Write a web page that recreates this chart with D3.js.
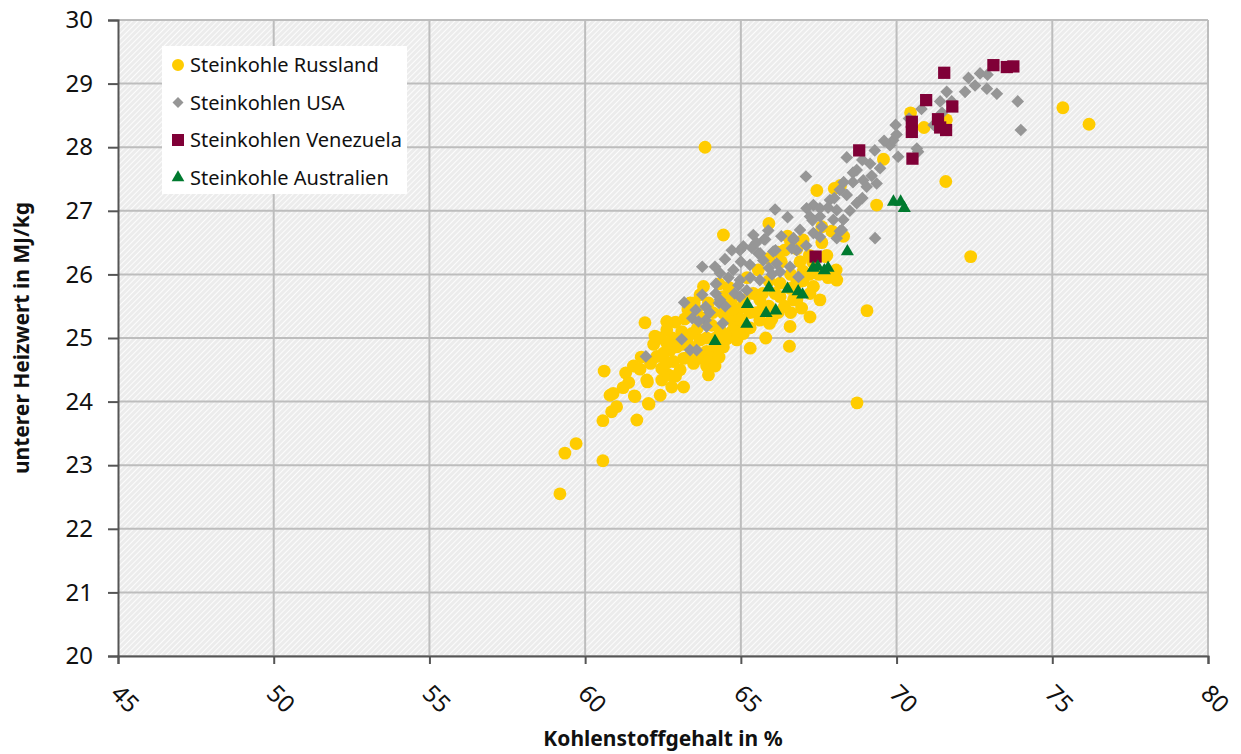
<!DOCTYPE html>
<html lang="de">
<head>
  <meta charset="UTF-8">
  <title>Heizwert vs. Kohlenstoffgehalt</title>
  <script src="https://d3js.org/d3.v7.min.js"></script>
  <style>
    body { margin: 0; background: #fff; }
    svg { display: block; font-family: "Noto Sans", sans-serif; }
    .tick-label { font-size: 24px; fill: #111; }
    .axis-title { font-size: 21px; font-weight: bold; fill: #111; }
    .legend-text { font-size: 20px; fill: #111; }
  </style>
</head>
<body>
  <svg width="1241" height="754"></svg>

  <script>
    // Data: [Kohlenstoffgehalt %, unterer Heizwert MJ/kg]
    const russland = [
      [63.85, 28.00], [75.34, 28.62], [76.18, 28.36], [71.58, 27.46], [72.38, 26.28],
      [68.73, 23.98], [69.05, 25.43], [70.45, 28.54], [70.88, 28.31], [71.60, 28.43],
      [69.36, 27.09], [69.58, 27.81], [67.44, 27.32], [67.92, 26.68], [67.72, 26.28],
      [67.00, 26.54], [66.80, 26.40], [66.40, 26.38], [67.76, 26.30], [68.06, 26.07],
      [68.08, 25.91], [67.22, 25.70], [67.54, 25.60], [66.95, 25.47], [67.22, 25.33],
      [66.58, 25.18], [66.56, 24.87], [66.26, 25.65], [66.58, 25.78], [66.69, 25.60],
      [65.61, 25.60], [65.56, 26.07], [66.26, 25.86], [66.79, 25.86], [67.33, 25.81],
      [65.90, 26.80], [64.44, 26.62], [68.00, 27.35], [67.60, 26.75], [68.02, 25.94],
      [59.19, 22.55], [60.57, 23.07], [59.35, 23.19], [59.71, 23.34], [60.57, 23.70],
      [60.61, 24.48], [60.85, 23.84], [61.01, 23.92], [60.80, 24.10], [60.90, 24.13],
      [61.22, 24.22], [61.58, 24.09], [61.66, 23.71], [62.05, 23.96], [62.00, 24.31],
      [61.55, 24.56], [61.76, 24.51], [61.98, 24.34], [62.41, 24.10], [62.46, 24.34],
      [62.67, 24.42], [62.78, 24.23], [63.16, 24.23], [62.46, 24.52], [62.30, 24.71],
      [62.51, 24.76], [62.83, 24.63], [63.05, 24.50], [62.73, 24.81], [62.94, 24.86],
      [63.16, 24.68], [63.48, 24.60], [63.64, 24.68], [63.27, 24.97], [62.62, 24.92],
      [63.43, 25.07], [63.69, 24.97], [63.90, 24.79], [64.12, 24.81], [63.90, 24.56],
      [63.96, 24.42], [64.17, 24.56], [64.22, 24.92], [64.44, 24.86], [64.55, 24.99],
      [64.71, 25.10], [64.92, 25.23], [64.87, 24.97], [65.30, 24.84], [65.08, 25.07],
      [64.76, 25.33], [65.03, 25.49], [64.44, 25.39], [64.33, 25.13], [64.06, 25.20],
      [63.80, 25.31], [62.90, 25.25], [62.62, 25.26], [63.58, 25.44], [63.37, 25.55],
      [63.96, 25.55], [64.42, 25.65], [64.60, 25.80], [64.30, 25.85], [61.92, 25.24],
      [62.24, 25.03], [62.62, 25.13], [61.60, 24.08], [62.03, 23.97], [63.69, 25.68],
      [63.80, 25.81], [63.50, 25.55], [63.30, 25.45], [64.19, 25.00], [65.61, 25.28],
      [65.92, 25.23], [64.80, 25.20], [65.30, 25.16], [65.80, 25.00], [66.00, 25.30],
      [65.30, 25.40], [65.70, 25.45], [66.40, 25.50], [66.10, 25.70], [65.90, 25.90],
      [66.60, 26.00], [67.00, 26.05], [67.30, 26.20], [66.90, 26.20], [67.80, 25.95],
      [67.50, 26.00], [68.30, 26.60], [66.50, 26.60],
      [62.20, 24.90], [62.40, 25.00], [62.60, 24.60], [62.90, 24.40], [63.10, 24.90],
      [63.30, 24.70], [63.50, 24.85], [63.70, 24.75], [63.10, 25.10], [63.60, 25.15],
      [63.90, 25.00], [64.00, 24.70], [64.30, 24.70], [64.50, 25.05], [64.60, 25.30],
      [64.80, 25.45], [65.00, 25.30], [65.10, 25.60], [65.40, 25.70], [65.50, 25.40],
      [65.70, 25.70], [65.90, 25.50], [66.20, 25.40], [66.30, 26.20], [66.60, 25.40],
      [66.80, 25.60], [67.00, 25.90], [67.20, 26.00], [64.90, 25.10], [64.10, 25.40],
      [63.20, 25.30], [62.80, 25.00], [62.50, 24.70], [62.10, 24.60], [61.80, 24.70],
      [61.40, 24.30], [61.30, 24.45], [64.70, 25.60], [66.60, 26.50], [66.20, 26.35],
      [67.20, 26.30], [67.60, 26.50], [68.20, 27.40], [65.20, 25.95], [65.90, 26.25]
    ];

    const usa = [
      [73.89, 28.72], [73.99, 28.27], [72.31, 29.09], [72.68, 29.16], [72.92, 29.14],
      [72.20, 28.87], [72.52, 28.97], [72.90, 28.92], [73.22, 28.84], [71.61, 28.87],
      [71.40, 28.72], [71.77, 28.72], [71.46, 28.54], [71.19, 28.35], [70.65, 27.98],
      [69.97, 28.35], [69.79, 28.03], [69.89, 28.11], [70.05, 27.85], [70.69, 27.93],
      [68.40, 27.84], [67.09, 27.54], [69.15, 27.74], [69.47, 27.67], [68.72, 27.64],
      [68.93, 27.48], [69.36, 27.43], [69.04, 27.38], [68.18, 27.33], [68.40, 27.25],
      [67.86, 27.17], [68.72, 27.12], [67.33, 27.09], [67.54, 27.04], [67.11, 27.04],
      [67.22, 26.91], [68.08, 27.01], [68.29, 26.86], [67.97, 26.86], [67.54, 26.91],
      [69.31, 26.57], [67.33, 26.65], [67.54, 26.59], [68.24, 26.70], [66.69, 26.54],
      [66.79, 26.38], [68.08, 26.57], [66.10, 27.02], [65.88, 26.69], [65.40, 26.62],
      [65.75, 26.55], [64.71, 26.38], [65.08, 26.44], [64.49, 26.24], [65.56, 26.33],
      [66.04, 26.36], [63.76, 26.12], [65.35, 26.42], [64.97, 26.38], [65.78, 26.55],
      [66.11, 26.38], [65.62, 26.33], [66.69, 26.57], [66.64, 26.41], [66.15, 26.17],
      [65.72, 26.22], [65.29, 26.15], [64.76, 26.07], [64.33, 26.02], [64.17, 26.12],
      [64.97, 25.91], [65.61, 25.91], [66.26, 26.04], [66.58, 26.12], [66.85, 25.96],
      [63.76, 25.68], [64.19, 25.70], [64.30, 25.55], [63.87, 25.49], [63.55, 25.44],
      [63.44, 25.31], [63.87, 25.28], [64.97, 25.65], [65.19, 25.75], [63.18, 25.56],
      [68.18, 26.68], [63.64, 25.26], [63.10, 24.98], [63.37, 24.81], [63.58, 24.81],
      [63.90, 25.18], [64.33, 25.60], [64.92, 25.83], [64.42, 25.23], [61.95, 24.71],
      [64.60, 25.95], [68.50, 27.00], [68.90, 27.20], [69.20, 27.55], [68.60, 27.45],
      [64.00, 25.40], [64.50, 25.50], [64.80, 25.70], [65.30, 25.95], [65.90, 26.10],
      [66.30, 26.60], [66.90, 26.70], [67.10, 26.45], [67.30, 26.85], [67.80, 27.05],
      [68.00, 27.20], [68.30, 27.45], [68.60, 27.60], [68.90, 27.80], [69.30, 27.95],
      [69.60, 28.10], [70.00, 28.20], [70.40, 28.45], [70.80, 28.60], [65.00, 26.20],
      [65.50, 26.50], [66.50, 26.90], [67.60, 26.75], [66.00, 26.00], [64.20, 25.85]
    ];

    const venezuela = [
      [71.53, 29.17], [73.11, 29.29], [73.54, 29.26], [73.75, 29.27], [70.95, 28.74],
      [71.79, 28.64], [70.49, 28.40], [70.49, 28.24], [71.33, 28.44], [71.40, 28.31],
      [71.59, 28.27], [68.80, 27.95], [70.51, 27.82], [67.40, 26.28]
    ];

    const australien = [
      [69.90, 27.14], [70.13, 27.14], [70.25, 27.04], [68.42, 26.36], [67.32, 26.10],
      [67.47, 26.12], [67.68, 26.06], [67.80, 26.10], [65.90, 25.79], [66.50, 25.77],
      [66.84, 25.73], [66.98, 25.68], [65.21, 25.53], [65.81, 25.39], [66.12, 25.43],
      [65.19, 25.22], [64.17, 24.95]
    ];

    const seriesNames = ["Steinkohle Russland", "Steinkohlen USA", "Steinkohlen Venezuela", "Steinkohle Australien"];
    const xTicks = [45, 50, 55, 60, 65, 70, 75, 80];
    const yTicks = [20, 21, 22, 23, 24, 25, 26, 27, 28, 29, 30];

    const svg = d3.select("svg");
    const plotLeft = 118, plotRight = 1208, plotTop = 20, plotBottom = 656;

    const x = d3.scaleLinear().domain([45, 80]).range([plotLeft, plotRight]);
    const y = d3.scaleLinear().domain([20, 30]).range([plotBottom, plotTop]);

    // hatched plot background
    const defs = svg.append("defs");
    const pat = defs.append("pattern")
      .attr("id", "hatch")
      .attr("patternUnits", "userSpaceOnUse")
      .attr("width", 4).attr("height", 4)
      .attr("patternTransform", "rotate(45)");
    pat.append("rect").attr("width", 4).attr("height", 4).attr("fill", "#ececec");
    pat.append("line").attr("x1", 0).attr("y1", 0).attr("x2", 0).attr("y2", 4)
      .attr("stroke", "#fcfcfc").attr("stroke-width", 2);

    svg.append("rect")
      .attr("x", plotLeft).attr("y", plotTop)
      .attr("width", plotRight - plotLeft).attr("height", plotBottom - plotTop)
      .attr("fill", "url(#hatch)");

    // gridlines
    svg.append("g").selectAll("line").data(yTicks).join("line")
      .attr("x1", plotLeft).attr("x2", plotRight)
      .attr("y1", d => y(d)).attr("y2", d => y(d))
      .attr("stroke", "#bdbdbd").attr("stroke-width", 2);
    svg.append("g").selectAll("line").data(xTicks.slice(1)).join("line")
      .attr("x1", d => x(d)).attr("x2", d => x(d))
      .attr("y1", plotTop).attr("y2", plotBottom)
      .attr("stroke", "#bdbdbd").attr("stroke-width", 2);

    // axes
    const yAxis = svg.append("g")
      .attr("transform", `translate(${plotLeft},0)`)
      .call(d3.axisLeft(y).tickValues(yTicks).tickSize(10).tickPadding(15).tickFormat(d3.format("d")));
    yAxis.attr("font-size", null).attr("font-family", null);
    yAxis.select(".domain").attr("stroke", "#555").attr("stroke-width", 2);
    yAxis.selectAll(".tick line").attr("stroke", "#555").attr("stroke-width", 2);
    yAxis.selectAll(".tick text").attr("class", "tick-label");

    const xAxis = svg.append("g")
      .attr("transform", `translate(0,${plotBottom})`)
      .call(d3.axisBottom(x).tickValues(xTicks).tickSize(8).tickFormat(d3.format("d")));
    xAxis.attr("font-size", null).attr("font-family", null);
    xAxis.select(".domain").attr("stroke", "#555").attr("stroke-width", 2);
    xAxis.selectAll(".tick line").attr("stroke", "#555").attr("stroke-width", 2);
    xAxis.selectAll(".tick text")
      .attr("class", "tick-label")
      .attr("text-anchor", "start")
      .attr("y", 0).attr("dy", "0.35em")
      .attr("transform", "translate(-3,33) rotate(45)");

    // axis titles
    svg.append("text")
      .attr("class", "axis-title")
      .attr("text-anchor", "middle")
      .attr("transform", `translate(29,${(plotTop + plotBottom) / 2}) rotate(-90)`)
      .text("unterer Heizwert in MJ/kg");
    svg.append("text")
      .attr("class", "axis-title")
      .attr("text-anchor", "middle")
      .attr("x", 663).attr("y", 746)
      .text("Kohlenstoffgehalt in %");

    // markers
    const colors = ["#ffcc00", "#969696", "#800037", "#007a2f"];
    const shapes = [
      d3.symbol(d3.symbolCircle, 130),
      d3.symbol(d3.symbolSquare, 80),
      d3.symbol(d3.symbolSquare, 150),
      d3.symbol(d3.symbolTriangle, 74)
    ];
    const rotations = [0, 45, 0, 0];
    const allSeries = [russland, usa, venezuela, australien];

    allSeries.forEach((data, i) => {
      svg.append("g").selectAll("path").data(data).join("path")
        .attr("d", shapes[i])
        .attr("fill", colors[i])
        .attr("transform", d => `translate(${x(d[0])},${y(d[1])}) rotate(${rotations[i]})`);
    });

    // legend
    const legend = svg.append("g");
    legend.append("rect")
      .attr("x", 162).attr("y", 46).attr("width", 245).attr("height", 148)
      .attr("fill", "#fff");
    const legendShapes = [
      d3.symbol(d3.symbolCircle, 113),
      d3.symbol(d3.symbolSquare, 60),
      d3.symbol(d3.symbolSquare, 144),
      d3.symbol(d3.symbolTriangle, 70)
    ];
    seriesNames.forEach((name, i) => {
      const ly = 65 + i * 37.5;
      legend.append("path")
        .attr("d", legendShapes[i])
        .attr("fill", colors[i])
        .attr("transform", `translate(178,${ly}) rotate(${rotations[i]})`);
      legend.append("text")
        .attr("class", "legend-text")
        .attr("x", 190).attr("y", ly).attr("dy", "0.35em")
        .text(name);
    });
  </script>
</body>
</html>
